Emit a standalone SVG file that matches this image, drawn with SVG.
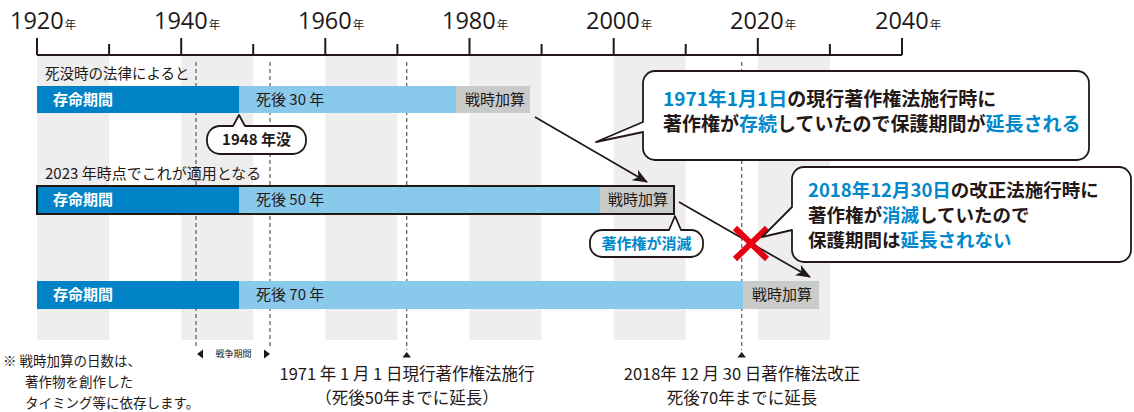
<svg xmlns="http://www.w3.org/2000/svg" width="1134" height="412" viewBox="0 0 1134 412">
<defs>
<style>
.t{font-family:"Noto Sans CJK JP","Noto Sans",sans-serif;fill:#231815}
.yr{font-family:"Open Sans","Noto Sans",sans-serif;font-size:23.5px;fill:#231815}
.yk{font-family:"Noto Sans CJK JP",sans-serif;font-size:11.5px}
.b{font-weight:bold}
.w{fill:#ffffff}
.bl{fill:#0088cc}
.band{fill:#eeeeee}
.dash{stroke:#666666;stroke-width:1.3;stroke-dasharray:4 3;fill:none}
.dark{fill:#0083c6}
.light{fill:#88c9ec}
.gray{fill:#c9caca}
.call{fill:#ffffff;stroke:#231815;stroke-width:1.8;stroke-linejoin:round}
.conn{stroke:#231815;stroke-width:1.7;fill:none}
.tick{stroke:#231815;stroke-width:2;fill:none}
</style>
<marker id="ah" markerUnits="userSpaceOnUse" markerWidth="16" markerHeight="12" refX="14" refY="6" orient="auto">
<path d="M0,0 L15,6 L0,12 L4,6 Z" fill="#231815"/>
</marker>
</defs>

<g id="bands">
<rect class="band" x="37" y="56" width="72.1" height="284"/>
<rect class="band" x="181.2" y="56" width="72" height="284"/>
<rect class="band" x="325.3" y="56" width="72.1" height="284"/>
<rect class="band" x="469.5" y="56" width="72.1" height="284"/>
<rect class="band" x="613.7" y="56" width="72" height="284"/>
<rect class="band" x="757.8" y="56" width="72.1" height="284"/>
</g>

<g id="axis">
<path class="tick" d="M37,55 H902 M37,38 V55 M181.2,38 V55 M325.3,38 V55 M469.5,38 V55 M613.7,38 V55 M757.8,38 V55 M902,38 V55 M109.1,44 V55 M253.2,44 V55 M397.4,44 V55 M541.6,44 V55 M685.7,44 V55 M829.9,44 V55"/>
<text class="yr" x="10" y="29">1920<tspan class="yk" dx="1">年</tspan></text>
<text class="yr" x="154" y="29">1940<tspan class="yk" dx="1">年</tspan></text>
<text class="yr" x="298" y="29">1960<tspan class="yk" dx="1">年</tspan></text>
<text class="yr" x="442" y="29">1980<tspan class="yk" dx="1">年</tspan></text>
<text class="yr" x="586" y="29">2000<tspan class="yk" dx="1">年</tspan></text>
<text class="yr" x="730" y="29">2020<tspan class="yk" dx="1">年</tspan></text>
<text class="yr" x="875" y="29">2040<tspan class="yk" dx="1">年</tspan></text>
</g>

<g id="guides">
<path class="dash" d="M196,62 V349 M270,62 V349 M406.7,62 V350 M741.7,62 V350"/>
<path d="M197,354 L203,349.5 V358.5 Z M270,354 L264,349.5 V358.5 Z" fill="#231815"/>
<text class="t" x="233.5" y="357" font-size="9" text-anchor="middle">戦争期間</text>
<path d="M406.7,352 L411,357.5 H402.4 Z M741.7,352 L746,357.5 H737.4 Z" fill="#231815"/>
</g>

<g id="row1">
<text class="t" x="45" y="79" font-size="14.5">死没時の法律によると</text>
<rect class="dark" x="37" y="86" width="202" height="27"/>
<rect class="light" x="239" y="86" width="217" height="27"/>
<rect class="gray" x="456" y="86" width="74" height="27"/>
<text class="t b w" x="53" y="105" font-size="15">存命期間</text>
<text class="t" x="256" y="105" font-size="15">死後 30 年</text>
<text class="t" x="465" y="105" font-size="15">戦時加算</text>
</g>

<g id="row2">
<text class="t" x="45" y="179" font-size="15">2023 年時点でこれが適用となる</text>
<rect class="dark" x="37" y="186" width="202" height="28"/>
<rect class="light" x="239" y="186" width="361" height="28"/>
<rect class="gray" x="600" y="186" width="74" height="28"/>
<rect x="37" y="186" width="637" height="28" fill="none" stroke="#231815" stroke-width="2"/>
<text class="t b w" x="53" y="205" font-size="15">存命期間</text>
<text class="t" x="256" y="205" font-size="15">死後 50 年</text>
<text class="t" x="608" y="205" font-size="15">戦時加算</text>
</g>

<g id="row3">
<rect class="dark" x="37" y="281" width="202" height="28"/>
<rect class="light" x="239" y="281" width="504" height="28"/>
<rect class="gray" x="743" y="281" width="76" height="28"/>
<text class="t b w" x="53" y="300" font-size="15">存命期間</text>
<text class="t" x="256" y="300" font-size="15">死後 70 年</text>
<text class="t" x="752" y="300" font-size="15">戦時加算</text>
</g>

<g id="connectors">
<line class="conn" x1="535" y1="117" x2="647" y2="182" marker-end="url(#ah)"/>
<line class="conn" x1="679" y1="202" x2="810" y2="277" marker-end="url(#ah)"/>
</g>

<g id="death-1948">
<path class="call" d="M220,126 H233 L239,115 L245,126 H293 A13,13 0 0 1 306,139 V141 A13,13 0 0 1 293,154 H220 A13,13 0 0 1 207,141 V139 A13,13 0 0 1 220,126 Z"/>
<text class="t b" x="256.5" y="145" font-size="15" text-anchor="middle">1948 年没</text>
</g>

<g id="expired">
<path class="call" d="M602,230 H669 L675,216 L681,230 H691 A12,12 0 0 1 703,242 V245 A12,12 0 0 1 691,257 H602 A12,12 0 0 1 590,245 V242 A12,12 0 0 1 602,230 Z"/>
<text class="t b bl" x="646.5" y="249" font-size="15" text-anchor="middle">著作権が消滅</text>
</g>

<g id="cross">
<path d="M735,228 L767,259 M767,228 L735,259" stroke="#e60012" stroke-width="6" fill="none"/>
</g>

<g id="callout-1971">
<path class="call" d="M655,71 H1077 A12,12 0 0 1 1089,83 V148 A12,12 0 0 1 1077,160 H655 A12,12 0 0 1 643,148 V132 L596,142 L643,122 V83 A12,12 0 0 1 655,71 Z"/>
<text class="t b" x="663" y="106" font-size="19"><tspan class="bl">1971年1月1日</tspan>の現行著作権法施行時に</text>
<text class="t b" x="663" y="131" font-size="19">著作権が<tspan class="bl">存続</tspan>していたので保護期間が<tspan class="bl">延長される</tspan></text>
</g>

<g id="callout-2018">
<path class="call" d="M804,167 H1119 A12,12 0 0 1 1131,179 V250 A12,12 0 0 1 1119,262 H804 A12,12 0 0 1 792,250 V230 L762,237 L792,207 V179 A12,12 0 0 1 804,167 Z"/>
<text class="t b" x="808" y="197" font-size="18.5"><tspan class="bl">2018年12月30日</tspan>の改正法施行時に</text>
<text class="t b" x="808" y="222" font-size="18.5">著作権が<tspan class="bl">消滅</tspan>していたので</text>
<text class="t b" x="808" y="247" font-size="18.5">保護期間は<tspan class="bl">延長されない</tspan></text>
</g>

<g id="notes">
<text class="t" x="3" y="366" font-size="13.5">※ 戦時加算の日数は、</text>
<text class="t" x="25" y="387" font-size="13.5">著作物を創作した</text>
<text class="t" x="25" y="408" font-size="13.5">タイミング等に依存します。</text>
<text class="t" x="407" y="380" font-size="16.5" text-anchor="middle">1971 年 1 月 1 日現行著作権法施行</text>
<text class="t" x="407" y="404" font-size="16.5" text-anchor="middle">（死後50年までに延長）</text>
<text class="t" x="742" y="380" font-size="16.5" text-anchor="middle">2018年 12 月 30 日著作権法改正</text>
<text class="t" x="742" y="404" font-size="16.5" text-anchor="middle">死後70年までに延長</text>
</g>
</svg>
